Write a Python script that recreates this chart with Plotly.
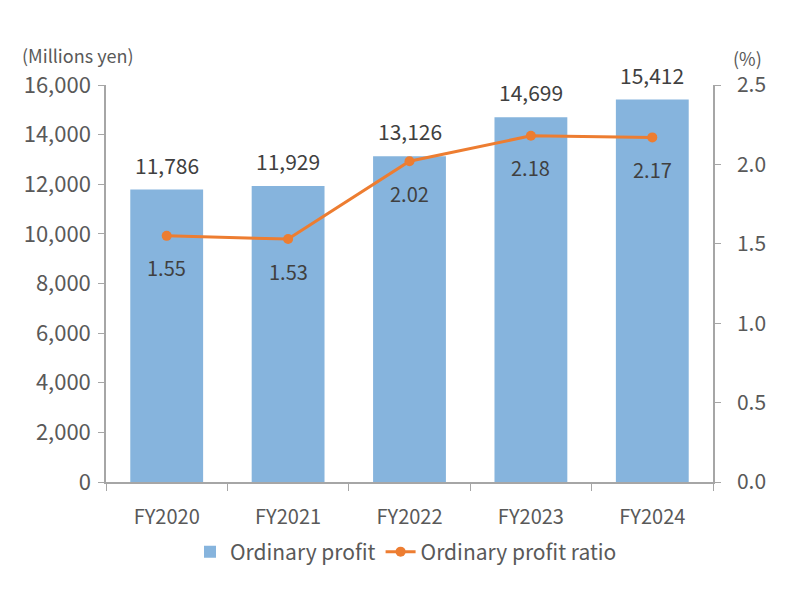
import plotly.graph_objects as go

categories = ["FY2020", "FY2021", "FY2022", "FY2023", "FY2024"]
profit = [11786, 11929, 13126, 14699, 15412]
ratio = [1.55, 1.53, 2.02, 2.18, 2.17]

FONT = "Noto Sans CJK JP"
TXT = "#595959"
LBL = "#404040"
AX = "#a6a6a6"

# the page body has an 8px margin; geometry below is in page pixels
OFF = 8
W, H = 806 - OFF, 600 - OFF
PL, PR, PT, PB = 106, 713, 85, 482  # plot area in page pixels
l, r, t, b = PL - OFF, W - (PR - OFF), PT - OFF, H - (PB - OFF)
pw, ph = PR - PL, PB - PT
def px(x): return (x - PL) / pw
def py(y): return (PB - y) / ph

fig = go.Figure()
fig.add_trace(go.Bar(
    x=categories, y=profit, name="Ordinary profit",
    marker=dict(color="#86b4dd", line=dict(width=0)), width=0.6,
))
fig.add_trace(go.Scatter(
    x=categories, y=ratio, name="Ordinary profit ratio", yaxis="y2",
    mode="lines+markers", line=dict(color="#ed7d31", width=3),
    marker=dict(color="#ed7d31", size=10),
))

annotations = []
for c, v in zip(categories, profit):
    annotations.append(dict(x=c, y=v, xref="x", yref="y", text=f"{v:,}", showarrow=False,
                            yshift=25, font=dict(size=21, color=LBL, family=FONT)))
for c, v in zip(categories, ratio):
    annotations.append(dict(x=c, y=v, xref="x", yref="y2", text=f"{v:.2f}", showarrow=False,
                            yshift=-32, font=dict(size=20, color=LBL, family=FONT)))
annotations.append(dict(x=px(20), y=py(55), xref="paper", yref="paper", xanchor="left", yanchor="middle",
                        text="(Millions yen)", showarrow=False, font=dict(size=18, color=TXT, family=FONT)))
annotations.append(dict(x=px(748), y=py(58), xref="paper", yref="paper", xanchor="center", yanchor="middle",
                        text="(%)", showarrow=False, font=dict(size=18, color=TXT, family=FONT)))

fig.update_layout(
    width=W, height=H,
    margin=dict(l=l, r=r, t=t, b=b, autoexpand=False),
    paper_bgcolor="white", plot_bgcolor="white",
    font=dict(family=FONT, size=20, color=TXT),
    annotations=annotations,
    showlegend=True,
    legend=dict(orientation="h", x=px(406), xanchor="center", y=py(552), yanchor="middle",
                font=dict(size=21, color=TXT, family=FONT), traceorder="normal",
                itemwidth=30, bgcolor="rgba(0,0,0,0)"),
    xaxis=dict(showline=True, linecolor=AX, linewidth=1.5, ticks="outside", tickson="boundaries",
               ticklen=7, tickcolor=AX, showgrid=False, tickfont=dict(size=20, color=TXT),
               ticklabelstandoff=16, automargin=False),
    yaxis=dict(range=[0, 16000], dtick=2000, tickformat=",", showline=True, linecolor=AX, linewidth=1.5,
               ticks="outside", ticklen=6, tickcolor=AX, showgrid=False, zeroline=False,
               tickfont=dict(size=22, color=TXT), ticklabelstandoff=3, automargin=False),
    yaxis2=dict(range=[0, 2.5], dtick=0.5, tickformat=".1f", overlaying="y", side="right",
                showline=True, linecolor=AX, linewidth=1.5, ticks="outside", ticklen=6, tickcolor=AX,
                showgrid=False, zeroline=False, tickfont=dict(size=21, color=TXT),
                ticklabelstandoff=12, automargin=False),
    bargap=0.4,
)

fig.write_html("out.html")
